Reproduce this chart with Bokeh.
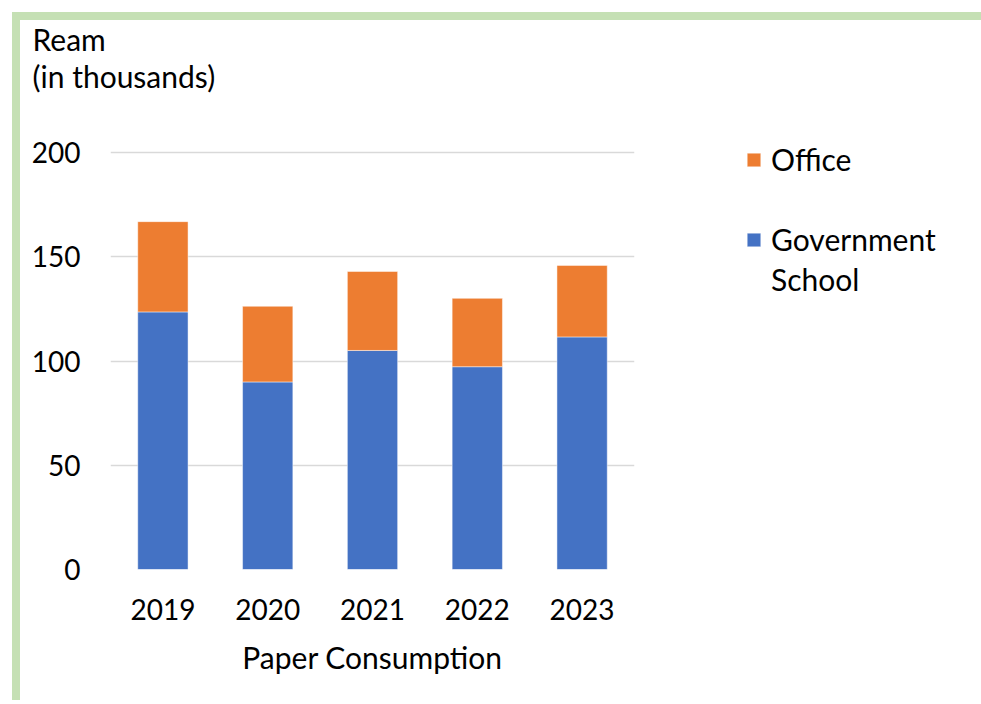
from bokeh.plotting import figure
from bokeh.models import Legend, LegendItem, Title, Range1d, FactorRange, ColumnDataSource
from bokeh.embed import file_html
from bokeh.resources import INLINE

years = ["2019", "2020", "2021", "2022", "2023"]
government_school = [123.6, 90.0, 105.1, 97.3, 111.6]
office = [43.3, 36.3, 37.9, 32.8, 34.3]
y_ticks = [0, 50, 100, 150, 200]

FONT = "Lato"
FS_NUM = "28px"
FS_TXT = "30px"

source = ColumnDataSource(dict(years=years, gov=government_school, office=office))

p = figure(x_range=FactorRange(*years), y_range=Range1d(0, 202),
           frame_width=524, frame_height=421,
           min_border_left=90, min_border_right=346,
           min_border_top=128, min_border_bottom=131,
           output_backend="svg", toolbar_location=None,
           background_fill_color="white", border_fill_color="white")

p.styles = {"border-top": "8px solid #c5e0b4", "border-left": "8px solid #c5e0b4",
            "margin-left": "12px", "margin-top": "12px"}

rs = p.vbar_stack(["gov", "office"], x="years", width=0.48, source=source,
                  color=["#4472c4", "#ed7d31"], line_color="white", line_width=0.8,
                  line_alpha=0.6)

# transparent glyph used for legend rows without a swatch
blank = p.vbar(x=[], top=[], width=0.5, fill_alpha=0, line_alpha=0)

p.x_range.range_padding = 0
p.outline_line_color = None
p.xgrid.grid_line_color = None
p.ygrid.grid_line_color = "#d9d9d9"
p.ygrid.grid_line_width = 1.5
p.yaxis.ticker = y_ticks

for ax in (p.xaxis, p.yaxis):
    ax.axis_line_color = None
    ax.major_tick_line_color = None
    ax.minor_tick_line_color = None
    ax.major_tick_out = 0
    ax.major_tick_in = 0
    ax.major_label_text_font = FONT
    ax.major_label_text_font_size = FS_NUM
    ax.major_label_text_color = "black"

p.yaxis.major_label_standoff = 30
p.xaxis.major_label_standoff = 29
p.xaxis.axis_label = "Paper Consumption"
p.xaxis.axis_label_text_font = FONT
p.xaxis.axis_label_text_font_size = FS_TXT
p.xaxis.axis_label_text_font_style = "normal"
p.xaxis.axis_label_text_color = "black"
p.xaxis.axis_label_standoff = 16

t1 = Title(text="Ream\n(in thousands)\n\n", align="left", offset=-78, standoff=-40,
           text_font=FONT, text_font_size=FS_TXT, text_font_style="normal",
           text_color="black", text_line_height=1.03)
p.add_layout(t1, "above")

legend = Legend(items=[LegendItem(label="Office", renderers=[rs[1]]),
                       LegendItem(label=" ", renderers=[blank]),
                       LegendItem(label="Government", renderers=[rs[0]]),
                       LegendItem(label="School", renderers=[blank])],
                location=(111, 272), orientation="vertical",
                glyph_width=17, glyph_height=17, label_standoff=9,
                label_height=36,
                spacing=4, padding=0, margin=0,
                border_line_color=None, background_fill_alpha=0,
                label_text_font=FONT, label_text_font_size=FS_TXT,
                label_text_color="black")
p.add_layout(legend, "right")

open("out.html", "w").write(file_html(p, INLINE))
